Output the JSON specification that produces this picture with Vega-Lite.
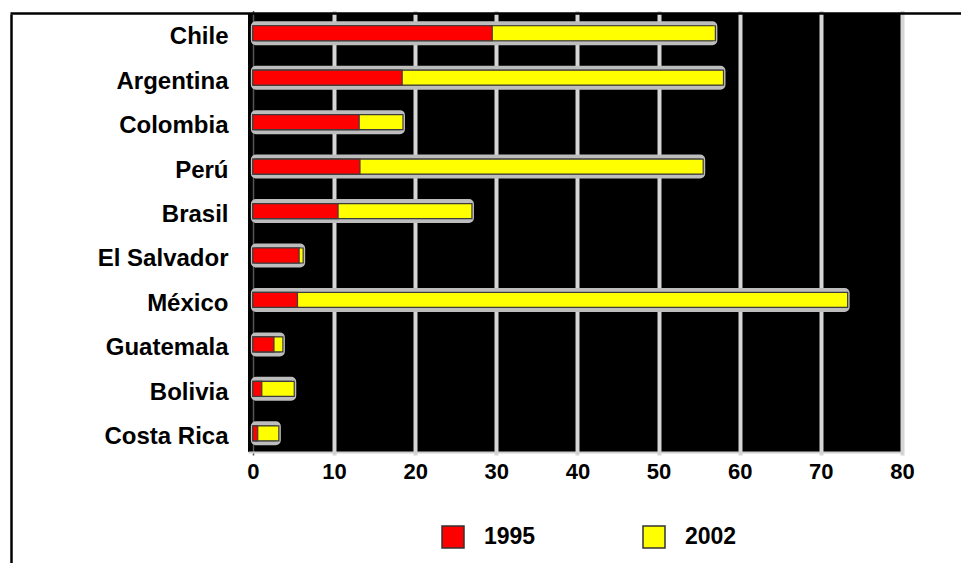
{
  "$schema": "https://vega.github.io/schema/vega-lite/v6.json",
  "width": 654,
  "height": 438,
  "autosize": "none",
  "padding": {"left": 248, "top": 14, "right": 59, "bottom": 111},
  "background": "#ffffff",
  "data": {
    "values": [
      {"pais": "Chile", "anio": "1995", "valor": 29.5},
      {"pais": "Chile", "anio": "2002", "valor": 57.0},
      {"pais": "Argentina", "anio": "1995", "valor": 18.4},
      {"pais": "Argentina", "anio": "2002", "valor": 58.0},
      {"pais": "Colombia", "anio": "1995", "valor": 13.1},
      {"pais": "Colombia", "anio": "2002", "valor": 18.5},
      {"pais": "Perú", "anio": "1995", "valor": 13.2},
      {"pais": "Perú", "anio": "2002", "valor": 55.5},
      {"pais": "Brasil", "anio": "1995", "valor": 10.5},
      {"pais": "Brasil", "anio": "2002", "valor": 27.0},
      {"pais": "El Salvador", "anio": "1995", "valor": 5.7},
      {"pais": "El Salvador", "anio": "2002", "valor": 6.2},
      {"pais": "México", "anio": "1995", "valor": 5.5},
      {"pais": "México", "anio": "2002", "valor": 73.3},
      {"pais": "Guatemala", "anio": "1995", "valor": 2.6},
      {"pais": "Guatemala", "anio": "2002", "valor": 3.7},
      {"pais": "Bolivia", "anio": "1995", "valor": 1.1},
      {"pais": "Bolivia", "anio": "2002", "valor": 5.1},
      {"pais": "Costa Rica", "anio": "1995", "valor": 0.6},
      {"pais": "Costa Rica", "anio": "2002", "valor": 3.2}
    ]
  },
  "layer": [
    {
      "encoding": {
        "y": {
          "field": "pais",
          "type": "nominal",
          "sort": null,
          "title": null,
          "scale": {"paddingInner": 0, "paddingOuter": 0, "range": [-3, 441.5]},
          "axis": {
            "domain": false,
            "ticks": false,
            "labelPadding": 20,
            "labelOffset": 4,
            "labelFont": "Liberation Sans",
            "labelFontWeight": "bold",
            "labelFontSize": 24,
            "labelColor": "#000000"
          }
        },
        "x": {
          "field": "valor",
          "type": "quantitative",
          "title": null,
          "scale": {"domain": [-0.6, 80], "nice": false, "zero": false},
          "axis": {
            "values": [0, 10, 20, 30, 40, 50, 60, 70, 80],
            "grid": true,
            "gridColor": {"condition": {"test": "datum.value === 0", "value": "#555555"}, "value": "#d6d6d6"},
            "gridWidth": {"condition": {"test": "datum.value === 0", "value": 1.5}, "value": 4},
            "domain": true,
            "domainColor": "#cfcfcf",
            "domainWidth": 2,
            "ticks": false,
            "labelPadding": 9,
            "labelFont": "Liberation Sans",
            "labelFontWeight": "bold",
            "labelFontSize": 22,
            "labelColor": "#000000",
            "labelFlush": false
          }
        }
      },
      "layer": [
        {
          "transform": [{"filter": "datum.anio === '2002'"}],
          "mark": {
            "type": "bar",
            "size": 20,
            "fill": "#474747",
            "stroke": "#bdbdbd",
            "strokeWidth": 4,
            "cornerRadius": 3
          },
          "encoding": {
            "x": {"field": "valor", "type": "quantitative"},
            "x2": {"datum": 0}
          }
        },
        {
          "mark": {"type": "bar", "size": 15, "stroke": "#3c3c3c", "strokeWidth": 1.2},
          "encoding": {
            "x": {"field": "valor", "type": "quantitative", "stack": null},
            "x2": {"datum": 0},
            "color": {
              "field": "anio",
              "type": "nominal",
              "scale": {"domain": ["1995", "2002"], "range": ["#ff0000", "#ffff00"]},
              "legend": {
                "title": null,
                "orient": "none",
                "direction": "horizontal",
                "legendX": 193,
                "legendY": 511,
                "padding": 0,
                "symbolType": "square",
                "symbolSize": 484,
                "symbolStrokeColor": "#333333",
                "symbolStrokeWidth": 1.5,
                "symbolOpacity": 1,
                "labelFont": "Liberation Sans",
                "labelFontWeight": "bold",
                "labelFontSize": 23,
                "labelColor": "#000000",
                "labelOffset": 19,
                "columnPadding": 104,
                "gridAlign": "none"
              }
            },
            "order": {"field": "anio", "sort": "descending"}
          }
        }
      ]
    },
    {
      "description": "Outer frame: top and left border lines drawn as axis domains",
      "mark": {"type": "point", "opacity": 0},
      "encoding": {
        "x": {
          "datum": 0,
          "type": "quantitative",
          "scale": {"domain": [0, 1], "range": [-238, 720]},
          "axis": {
            "orient": "top",
            "offset": 1,
            "title": null,
            "labels": false,
            "ticks": false,
            "grid": false,
            "domainColor": "#000000",
            "domainWidth": 2.5
          }
        },
        "y": {
          "datum": 0,
          "type": "quantitative",
          "scale": {"domain": [0, 1], "range": [0, 560]},
          "axis": {
            "orient": "left",
            "offset": 237,
            "title": null,
            "labels": false,
            "ticks": false,
            "grid": false,
            "domainColor": "#000000",
            "domainWidth": 2.5
          }
        }
      }
    }
  ],
  "resolve": {
    "scale": {"x": "independent", "y": "independent"},
    "axis": {"x": "independent", "y": "independent"}
  },
  "config": {
    "view": {"fill": "#000000", "stroke": null}
  }
}
